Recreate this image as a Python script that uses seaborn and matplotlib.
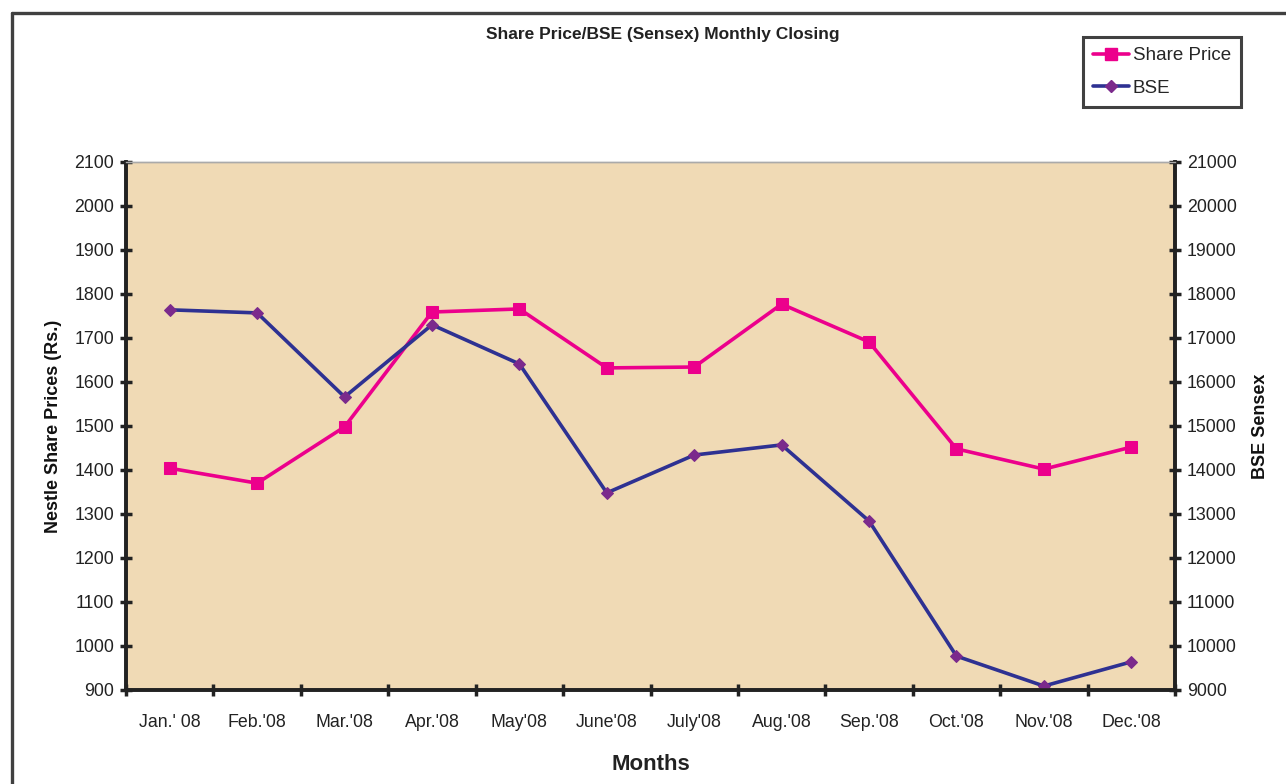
import numpy as np
import pandas as pd
import matplotlib
matplotlib.use("Agg")
import matplotlib.pyplot as plt
from matplotlib.lines import Line2D
import seaborn as sns

# data
months = ["Jan.' 08", "Feb.'08", "Mar.'08", "Apr.'08", "May'08", "June'08",
          "July'08", "Aug.'08", "Sep.'08", "Oct.'08", "Nov.'08", "Dec.'08"]
share_price = [1404, 1370, 1498, 1759, 1766, 1632, 1634, 1777, 1691, 1448, 1402, 1452]
bse = [17640, 17570, 15660, 17300, 16410, 13480, 14340, 14570, 12840, 9770, 9090, 9640]

pink = "#EC008C"
navy = "#2E3192"
purple = "#7B2A8C"
bg = "#F0DAB5"

sns.set_theme(style="white")
plt.rcParams["font.family"] = ["Liberation Sans", "DejaVu Sans"]

df = pd.DataFrame({"pos": np.arange(len(months)), "month": months,
                   "share": share_price, "bse": bse})

fig = plt.figure(figsize=(12.86, 7.84), dpi=100)
ax = fig.add_axes([0.098, 0.1199, 0.8157, 0.6735])
ax.set_facecolor(bg)
ax2 = ax.twinx()

sns.lineplot(data=df, x="pos", y="share", ax=ax, color=pink, lw=2.6,
             marker="s", markersize=8, markeredgecolor=pink, markerfacecolor=pink)
sns.lineplot(data=df, x="pos", y="bse", ax=ax2, color=navy, lw=2.6,
             marker="D", markersize=6, markeredgecolor=purple, markerfacecolor=purple)

ax.set_xlim(-0.5, len(months) - 0.5)
ax.set_ylim(900, 2100)
ax2.set_ylim(9000, 21000)
ax.set_yticks(np.arange(900, 2101, 100))
ax2.set_yticks(np.arange(9000, 21001, 1000))

ax.set_xticks(df["pos"])
ax.set_xticklabels(months)
ax.set_xticks(np.arange(-0.5, len(months), 1), minor=True)
ax.tick_params(axis="x", which="major", length=0, pad=17, labelsize=12.8, colors="#222222")
ax.tick_params(axis="x", which="minor", direction="inout", length=9, width=2.5, color="#222222", bottom=True)
ax.tick_params(axis="y", direction="inout", length=9, width=2.5, color="#222222",
               labelsize=12.8, labelcolor="#222222", pad=4, left=True)
ax2.tick_params(axis="y", direction="inout", length=9, width=2.5, color="#222222",
                labelsize=12.8, labelcolor="#222222", pad=4, right=True)

for a in (ax, ax2):
    for side in ("left", "right", "bottom"):
        a.spines[side].set_color("#222222")
        a.spines[side].set_linewidth(2.6)
    a.spines["top"].set_color("#aaaaaa")
    a.spines["top"].set_linewidth(1.0)
ax2.grid(False)
ax.grid(False)

ax.set_xlabel("Months", fontsize=16, fontweight="bold", labelpad=17, color="#222222")
ax.set_ylabel("Nestle Share Prices (Rs.)", fontsize=13, fontweight="bold", labelpad=9, color="#111111")
ax2.set_ylabel("BSE Sensex", fontsize=13, fontweight="bold", labelpad=11, color="#111111")

fig.text(0.5155, 1 - 34 / 784, "Share Price/BSE (Sensex) Monthly Closing",
         ha="center", va="center", fontsize=12.5, fontweight="bold",
         family=["Liberation Sans Narrow", "Liberation Sans", "DejaVu Sans"], color="#222222")

handles = [
    Line2D([], [], color=pink, lw=2.6, marker="s", markersize=8, markerfacecolor=pink, markeredgecolor=pink),
    Line2D([], [], color=navy, lw=2.6, marker="D", markersize=6, markerfacecolor=purple, markeredgecolor=purple),
]
leg = fig.legend(handles, ["Share Price", "BSE"], loc="upper right",
                 bbox_to_anchor=(1241 / 1286, 1 - 37 / 784), borderaxespad=0,
                 fancybox=False, frameon=True, fontsize=13.5, handlelength=1.9,
                 handletextpad=0.2, labelspacing=0.8, borderpad=0.55)
leg.get_frame().set_edgecolor("#111111")
leg.get_frame().set_linewidth(2.2)

# outer frame (top and left edges visible)
fig.add_artist(Line2D([12 / 1286, 1.0], [1 - 13 / 784, 1 - 13 / 784], color="#404040", lw=2.4))
fig.add_artist(Line2D([12 / 1286, 12 / 1286], [0.0, 1 - 13 / 784], color="#404040", lw=2.4))

fig.savefig("out.png", dpi=100)
